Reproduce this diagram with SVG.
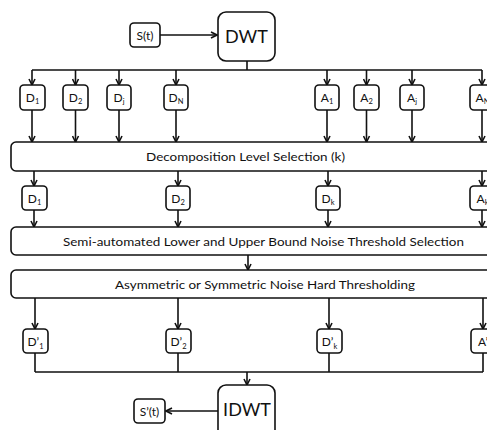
<svg xmlns="http://www.w3.org/2000/svg" width="487" height="430" viewBox="0 0 487 430">
<style>
.box{fill:#fff;stroke:#111;stroke-width:1.6}
.ln{fill:none;stroke:#111;stroke-width:1.6}
.arr{fill:none;stroke:#111;stroke-width:1.6;marker-end:url(#ah)}
text{font-family:Lato,"Liberation Sans",sans-serif;fill:#111;text-anchor:middle}
.s{font-size:12px}
.big{font-size:18px}
.sub{font-size:7.5px}
</style>
<defs>
<marker id="ah" markerUnits="userSpaceOnUse" markerWidth="8" markerHeight="8" viewBox="0 0 8 8" refX="7" refY="4" orient="auto">
<path d="M1,1 L7,4 L1,7" fill="none" stroke="#111" stroke-width="1.6"/>
</marker>
</defs>
<rect width="487" height="430" fill="#fff"/>

<g id="connectors">
<line class="arr" x1="160" y1="35" x2="217" y2="35"/>
<path class="ln" d="M247,61 V70 M32,70 H482"/>
<line class="arr" x1="32" y1="70" x2="32" y2="85"/>
<line class="arr" x1="75.5" y1="70" x2="75.5" y2="85"/>
<line class="arr" x1="119" y1="70" x2="119" y2="85"/>
<line class="arr" x1="176" y1="70" x2="176" y2="85"/>
<line class="arr" x1="327" y1="70" x2="327" y2="85"/>
<line class="arr" x1="366.5" y1="70" x2="366.5" y2="85"/>
<line class="arr" x1="412" y1="70" x2="412" y2="85"/>
<line class="arr" x1="482" y1="70" x2="482" y2="85"/>
<line class="arr" x1="32" y1="110" x2="32" y2="142"/>
<line class="arr" x1="75.5" y1="110" x2="75.5" y2="142"/>
<line class="arr" x1="119" y1="110" x2="119" y2="142"/>
<line class="arr" x1="176" y1="110" x2="176" y2="142"/>
<line class="arr" x1="327" y1="110" x2="327" y2="142"/>
<line class="arr" x1="366.5" y1="110" x2="366.5" y2="142"/>
<line class="arr" x1="412" y1="110" x2="412" y2="142"/>
<line class="arr" x1="482" y1="110" x2="482" y2="142"/>
<line class="arr" x1="34" y1="171" x2="34" y2="186"/>
<line class="arr" x1="178" y1="171" x2="178" y2="186"/>
<line class="arr" x1="328" y1="171" x2="328" y2="186"/>
<line class="arr" x1="482" y1="171" x2="482" y2="186"/>
<line class="arr" x1="34" y1="210" x2="34" y2="227"/>
<line class="arr" x1="178" y1="210" x2="178" y2="227"/>
<line class="arr" x1="328" y1="210" x2="328" y2="227"/>
<line class="arr" x1="482" y1="210" x2="482" y2="227"/>
<line class="arr" x1="248" y1="255" x2="248" y2="270"/>
<line class="arr" x1="35" y1="298" x2="35" y2="329"/>
<line class="arr" x1="178" y1="298" x2="178" y2="329"/>
<line class="arr" x1="329" y1="298" x2="329" y2="329"/>
<line class="arr" x1="483" y1="298" x2="483" y2="329"/>
<path class="ln" d="M35,353 V372 M178,353 V372 M329,353 V372 M483,353 V372 M35,372 H483"/>
<line class="arr" x1="247" y1="372" x2="247" y2="385"/>
<line class="arr" x1="218" y1="411" x2="166" y2="411"/>
</g>

<g id="st"><rect class="box" x="130" y="23" width="30" height="24" rx="4"/><text class="s" x="145" y="39.5">S(t)</text></g>
<g id="dwt"><rect class="box" x="218" y="12" width="57" height="49" rx="8"/><text class="big" x="246.5" y="43">DWT</text></g>

<g id="d1"><rect class="box" x="20" y="85" width="25" height="25" rx="4"/><text class="s" x="32.5" y="102">D<tspan class="sub" dy="2">1</tspan></text></g>
<g id="d2"><rect class="box" x="63" y="85" width="25" height="25" rx="4"/><text class="s" x="75.5" y="102">D<tspan class="sub" dy="2">2</tspan></text></g>
<g id="dj"><rect class="box" x="107" y="85" width="24" height="25" rx="4"/><text class="s" x="119" y="102">D<tspan class="sub" dy="2">j</tspan></text></g>
<g id="dn"><rect class="box" x="164" y="85" width="24" height="25" rx="4"/><text class="s" x="176" y="102">D<tspan class="sub" dy="2">N</tspan></text></g>
<g id="a1"><rect class="box" x="315" y="85" width="24" height="25" rx="4"/><text class="s" x="327" y="102">A<tspan class="sub" dy="2">1</tspan></text></g>
<g id="a2"><rect class="box" x="354" y="85" width="25" height="25" rx="4"/><text class="s" x="366.5" y="102">A<tspan class="sub" dy="2">2</tspan></text></g>
<g id="aj"><rect class="box" x="400" y="85" width="24" height="25" rx="4"/><text class="s" x="412" y="102">A<tspan class="sub" dy="2">j</tspan></text></g>
<g id="an"><rect class="box" x="470" y="85" width="25" height="25" rx="4"/><text class="s" x="482.5" y="102">A<tspan class="sub" dy="2">N</tspan></text></g>

<g id="decomp"><rect class="box" x="11" y="142" width="500" height="29" rx="5"/><text class="s" x="245.5" y="161" textLength="199" lengthAdjust="spacingAndGlyphs">Decomposition Level Selection (k)</text></g>

<g id="dk1"><rect class="box" x="22" y="186" width="25" height="24" rx="4"/><text class="s" x="34.5" y="202.5">D<tspan class="sub" dy="2">1</tspan></text></g>
<g id="dk2"><rect class="box" x="166" y="186" width="24" height="24" rx="4"/><text class="s" x="178" y="202.5">D<tspan class="sub" dy="2">2</tspan></text></g>
<g id="dkk"><rect class="box" x="316" y="186" width="24" height="24" rx="4"/><text class="s" x="328" y="202.5">D<tspan class="sub" dy="2">k</tspan></text></g>
<g id="ak"><rect class="box" x="470" y="186" width="25" height="24" rx="4"/><text class="s" x="482.5" y="202.5">A<tspan class="sub" dy="2">k</tspan></text></g>

<g id="semi"><rect class="box" x="11" y="227" width="500" height="28" rx="5"/><text class="s" x="263.5" y="246" textLength="401" lengthAdjust="spacingAndGlyphs">Semi-automated Lower and Upper Bound Noise Threshold Selection</text></g>
<g id="hard"><rect class="box" x="11" y="270" width="500" height="28" rx="5"/><text class="s" x="265" y="289" textLength="300" lengthAdjust="spacingAndGlyphs">Asymmetric or Symmetric Noise Hard Thresholding</text></g>

<g id="dp1"><rect class="box" x="23" y="329" width="25" height="24" rx="4"/><text class="s" x="35.5" y="345.5">D’<tspan class="sub" dy="3">1</tspan></text></g>
<g id="dp2"><rect class="box" x="166" y="329" width="25" height="24" rx="4"/><text class="s" x="178.5" y="345.5">D’<tspan class="sub" dy="3">2</tspan></text></g>
<g id="dpk"><rect class="box" x="317" y="329" width="25" height="24" rx="4"/><text class="s" x="329.5" y="345.5">D’<tspan class="sub" dy="3">k</tspan></text></g>
<g id="apk"><rect class="box" x="471" y="329" width="25" height="24" rx="4"/><text class="s" x="485" y="345.5">A’<tspan class="sub" dy="3">k</tspan></text></g>

<g id="idwt"><rect class="box" x="218" y="385" width="57" height="60" rx="8"/><text class="big" x="247" y="416">IDWT</text></g>
<g id="spt"><rect class="box" x="134" y="399" width="31" height="24" rx="4"/><text class="s" x="149.5" y="415.5">S’(t)</text></g>
</svg>
